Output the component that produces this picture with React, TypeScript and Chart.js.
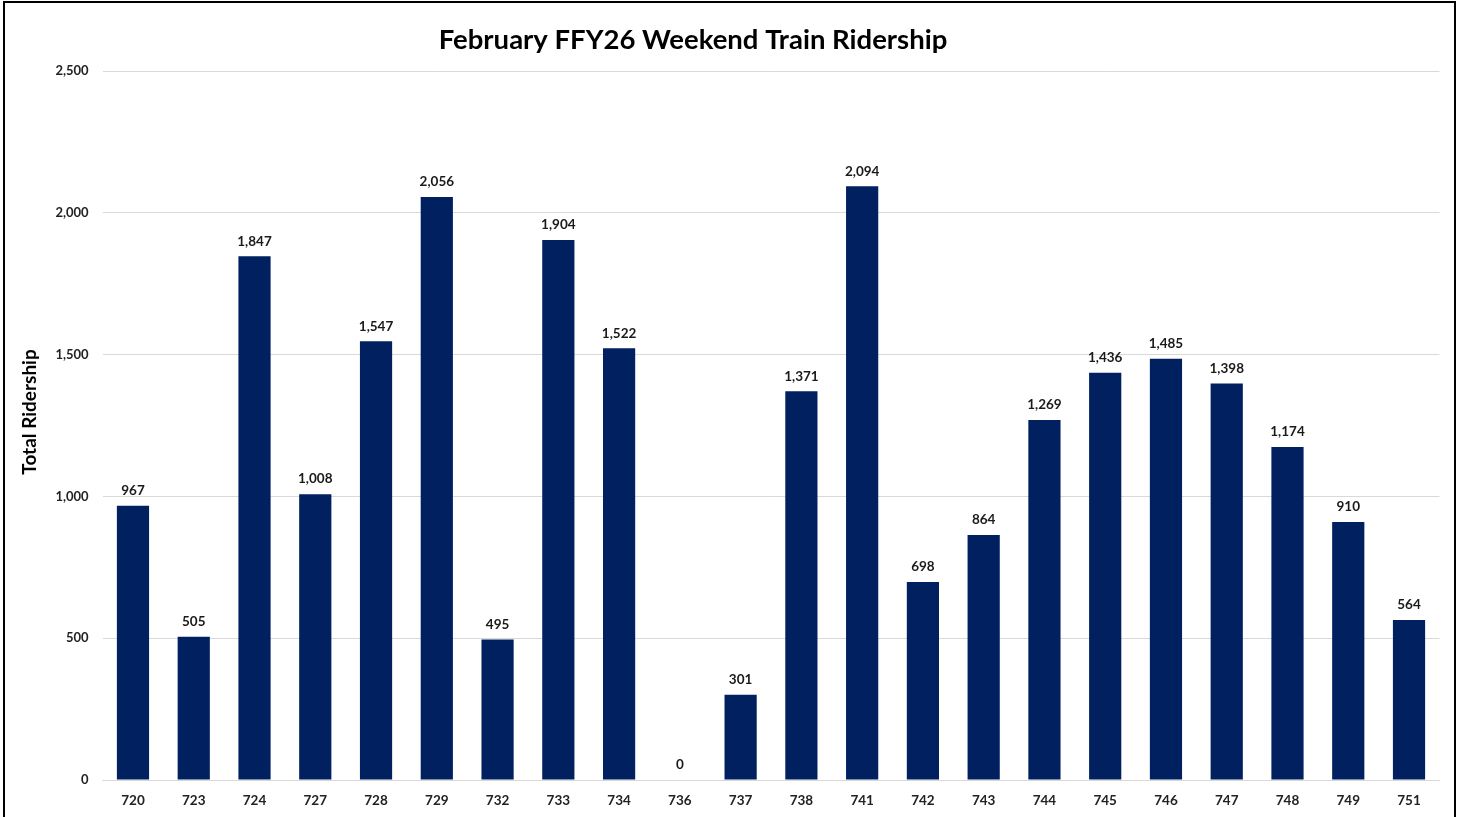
import React, { useEffect, useRef } from "react";
import { Chart, registerables } from "chart.js";

Chart.register(...registerables);

const categories = ["720", "723", "724", "727", "728", "729", "732", "733", "734", "736", "737", "738", "741", "742", "743", "744", "745", "746", "747", "748", "749", "751"];
const ridership = [967, 505, 1847, 1008, 1547, 2056, 495, 1904, 1522, 0, 301, 1371, 2094, 698, 864, 1269, 1436, 1485, 1398, 1174, 910, 564];
const yTicks = [0, 500, 1000, 1500, 2000, 2500];
const chartTitle = "February FFY26 Weekend Train Ridership";
const yTitle = "Total Ridership";

const FONT = "Lato, 'Open Sans', sans-serif";
const fmt = (v: number) => v.toLocaleString("en-US");

const labelsPlugin = {
  id: "customText",
  afterDatasetsDraw(chart: any) {
    const ctx = chart.ctx;
    const meta = chart.getDatasetMeta(0);
    ctx.save();
    ctx.fillStyle = "#1a1a1a";
    ctx.font = `bold 13.5px ${FONT}`;
    ctx.textAlign = "center";
    ctx.textBaseline = "middle";
    meta.data.forEach((bar: any, i: number) => {
      ctx.fillText(fmt(ridership[i]), bar.x, bar.y - 15);
    });
    ctx.restore();
  },
  afterDraw(chart: any) {
    const ctx = chart.ctx;
    ctx.save();
    ctx.fillStyle = "#000";
    ctx.font = `bold 27.5px ${FONT}`;
    ctx.textAlign = "center";
    ctx.textBaseline = "middle";
    ctx.fillText(chartTitle, 693, 40);
    ctx.translate(30, 412);
    ctx.rotate(-Math.PI / 2);
    ctx.font = `bold 19px ${FONT}`;
    ctx.fillText(yTitle, 0, 0);
    ctx.restore();
  },
};

export default function App() {
  const ref = useRef<HTMLCanvasElement>(null);
  useEffect(() => {
    if (!ref.current) return;
    const chart = new Chart(ref.current, {
      type: "bar",
      data: {
        labels: categories,
        datasets: [
          {
            data: ridership,
            backgroundColor: "#002060",
            barPercentage: 0.53,
            categoryPercentage: 1,
          },
        ],
      },
      options: {
        responsive: false,
        animation: false,
        devicePixelRatio: 1,
        layout: { padding: { top: 71, right: 24.6, bottom: 0, left: 0 } },
        plugins: { legend: { display: false }, title: { display: false }, tooltip: { enabled: false } },
        scales: {
          x: {
            grid: { display: false, drawTicks: false },
            border: { display: true, color: "#d9d9d9", width: 1 },
            ticks: { color: "#222", font: { family: FONT, size: 13.5, weight: "bold" }, padding: 13 },
            afterFit: (s: any) => { s.height = 37; },
          },
          y: {
            min: 0,
            max: 2500,
            afterBuildTicks: (s: any) => { s.ticks = yTicks.map((v) => ({ value: v })); },
            grid: { color: "#d9d9d9", drawTicks: false },
            border: { display: false },
            ticks: {
              color: "#222",
              font: { family: FONT, size: 13, weight: "bold" },
              padding: 14,
              callback: (v: any) => fmt(Number(v)),
            },
            afterFit: (s: any) => { s.width = 102.6; },
          },
        },
      },
      plugins: [labelsPlugin],
    });
    return () => chart.destroy();
  }, []);
  return (
    <div style={{ position: "fixed", left: 0, top: 0, width: 1464, height: 817, overflow: "hidden", background: "#fff" }}>
      <canvas ref={ref} width={1464} height={817} style={{ position: "absolute", left: 0, top: 0 }} />
      <div style={{ position: "absolute", left: 3, top: 1, width: 1449, height: 840, border: "2px solid #000", pointerEvents: "none" }} />
    </div>
  );
}
